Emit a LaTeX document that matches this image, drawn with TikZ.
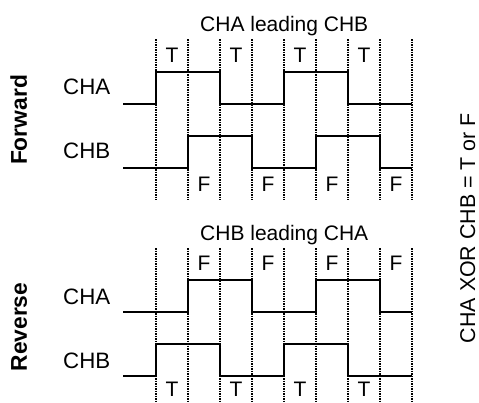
\documentclass[tikz,border=0pt]{standalone}
\usepackage{fontspec}
\setmainfont{Liberation Sans}
\newcommand\fntLbl{\fontsize{22.3}{26}\selectfont}
\newcommand\fntTtl{\fontsize{21}{25}\selectfont}
\newcommand\fntSide{\fontsize{22.8}{26}\selectfont\bfseries}
\newcommand\fntXor{\fontsize{21.4}{25}\selectfont}
\tikzset{
  sig/.style={line width=2.3pt,line join=miter},
  gridln/.style={line width=2.2pt,dash pattern=on 1.8pt off 0.7pt,black},
  lbl/.style={anchor=base west,inner sep=0pt,font=\fntLbl},
  ttl/.style={anchor=base west,inner sep=0pt,font=\fntTtl},
  tf/.style={anchor=base,inner sep=0pt,font=\fntTtl},
  side/.style={anchor=base,inner sep=0pt,rotate=90,font=\fntSide},
  xorlbl/.style={anchor=base,inner sep=0pt,rotate=90,font=\fntXor}
}
\begin{document}
\begin{tikzpicture}[x=1pt,y=-1pt]
\useasboundingbox (0,0) rectangle (479,402);
% grid lines
\foreach \i in {0,...,8} {
  \draw[gridln] ({156+32*\i},39) -- ({156+32*\i},200);
  \draw[gridln] ({156+32*\i},248) -- ({156+32*\i},402);
}
% titles
\node[ttl] (t1) at (200,31) {CHA leading CHB};
\node[ttl] (t2) at (200,240) {CHB leading CHA};
\node[side] (fw) at (27,120) {Forward};
\node[side] (rv) at (27,327) {Reverse};
\node[lbl] (fa) at (63,94) {CHA};
\node[lbl] (fb) at (63,158) {CHB};
\node[lbl] (ra) at (63,304) {CHA};
\node[lbl] (rb) at (63,368) {CHB};
\node[xorlbl] (xor) at (475,228) {CHA XOR CHB = T or F};
% T/F labels
\foreach \i in {0,2,4,6} {
  \node[tf] at ({172+32*\i},62) {T};
  \node[tf] at ({172+32*(\i+1)},191) {F};
  \node[tf] at ({172+32*(\i+1)},270) {F};
  \node[tf] at ({172+32*\i},396) {T};
}
% forward signals
\draw[sig] (123,104) -- (156,104) -- (156,72) -- (220,72) -- (220,104) -- (284,104) -- (284,72) -- (348,72) -- (348,104) -- (412,104);
\draw[sig] (123,168) -- (188,168) -- (188,136) -- (252,136) -- (252,168) -- (316,168) -- (316,136) -- (380,136) -- (380,168) -- (412,168);
% reverse signals
\draw[sig] (123,312) -- (188,312) -- (188,280) -- (252,280) -- (252,312) -- (316,312) -- (316,280) -- (380,280) -- (380,312) -- (412,312);
\draw[sig] (123,376) -- (156,376) -- (156,344) -- (220,344) -- (220,376) -- (284,376) -- (284,344) -- (348,344) -- (348,376) -- (412,376);
\end{tikzpicture}
\end{document}
